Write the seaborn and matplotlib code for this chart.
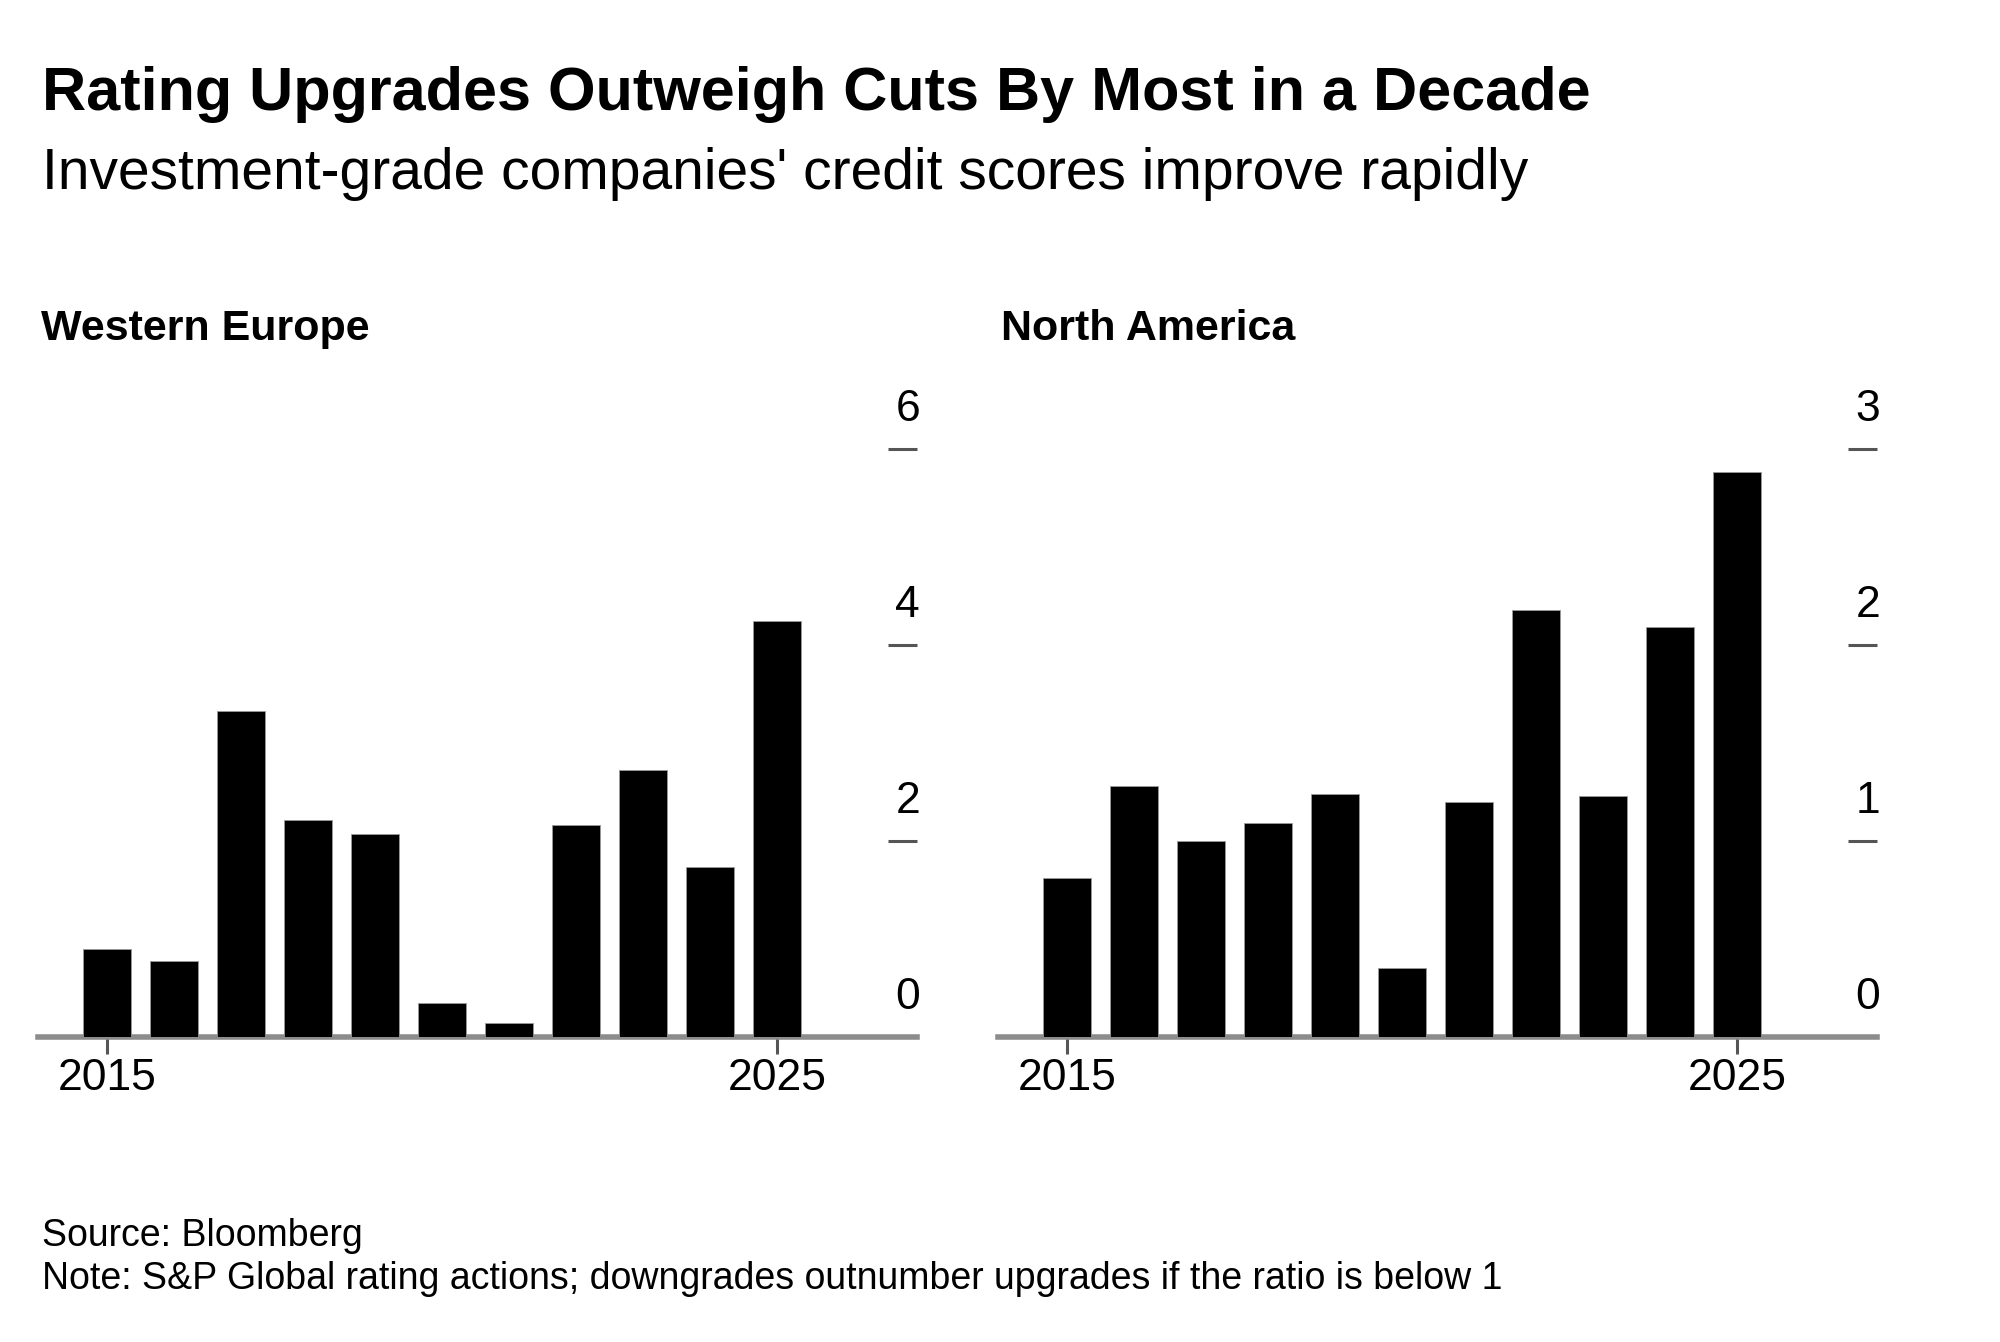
import matplotlib
matplotlib.use("Agg")
import matplotlib.pyplot as plt
import matplotlib.transforms as mtrans
import seaborn as sns

# data (upgrade / downgrade ratio)
years = [str(y) for y in range(2015, 2026)]
europe = [0.90, 0.78, 3.33, 2.21, 2.07, 0.35, 0.14, 2.16, 2.72, 1.73, 4.24]
america = [0.81, 1.28, 1.00, 1.09, 1.24, 0.35, 1.20, 2.18, 1.23, 2.09, 2.88]
europe_ticks = [0, 2, 4, 6]
america_ticks = [0, 1, 2, 3]
xtick_years = ['2015', '2025']

sns.set_theme(style='white')
plt.rcParams['font.family'] = ['Liberation Sans', 'DejaVu Sans']
plt.rcParams['text.color'] = 'black'

fig = plt.figure(figsize=(20, 13.42), dpi=100)

# title block
fig.text(0.021, 0.918, 'Rating Upgrades Outweigh Cuts By Most in a Decade',
         fontsize=44, fontweight='bold', va='baseline', ha='left')
fig.text(0.021, 0.8592, "Investment-grade companies' credit scores improve rapidly",
         fontsize=41, va='baseline', ha='left')

# footer
fig.text(0.021, 1 - 1246 / 1342, 'Source: Bloomberg', fontsize=27, va='baseline')
fig.text(0.021, 1 - 1289 / 1342,
         'Note: S&P Global rating actions; downgrades outnumber upgrades if the ratio is below 1',
         fontsize=27, va='baseline')

panels = [
    ('Western Europe', europe, europe_ticks, 0.019),
    ('North America', america, america_ticks, 0.499),
]

for name, vals, yt, x0 in panels:
    ax = fig.add_axes([x0, 0.2273, 0.4395, 0.482])
    sns.barplot(x=years, y=vals, color='black', width=0.72, saturation=1,
                errorbar=None, ax=ax, zorder=3, edgecolor='#9a9a9a', linewidth=0.6)
    ax.set_xlim(-1.03, 12.09)
    ax.set_ylim(0, yt[-1] * 1.1)

    for s in ['top', 'left', 'right']:
        ax.spines[s].set_visible(False)
    ax.spines['bottom'].set_color('#8c8c8c')
    ax.spines['bottom'].set_linewidth(4)
    ax.spines['bottom'].set_zorder(2)

    ax.set_xticks([years.index(y) for y in xtick_years])
    ax.set_xticklabels(xtick_years)
    ax.tick_params(axis='x', bottom=True, direction='out', length=12, width=2.2,
                   color='#555555', labelcolor='black', labelsize=32, pad=3)

    # y ticks on the right, pointing inwards, labels drawn above them
    ax.yaxis.tick_right()
    ax.set_yticks(yt[1:])
    ax.set_yticklabels([])
    ax.tick_params(axis='y', right=True, left=False, direction='in', length=21,
                   width=2.2, color='#555555')
    trans = mtrans.blended_transform_factory(ax.transAxes, ax.transData)
    off = mtrans.offset_copy(trans, fig=fig, x=3, y=28, units='dots')
    for v in yt:
        ax.text(1.0, v, str(v), transform=off, ha='right', va='baseline',
                fontsize=32, color='black')

    ax.set_xlabel('')
    ax.set_ylabel('')
    ax.grid(False)

    fig.text(x0 + 0.0015, 1 - 340 / 1342, name, fontsize=31, fontweight='bold',
             va='baseline', ha='left')

fig.savefig('out.png', dpi=100, facecolor='white')
